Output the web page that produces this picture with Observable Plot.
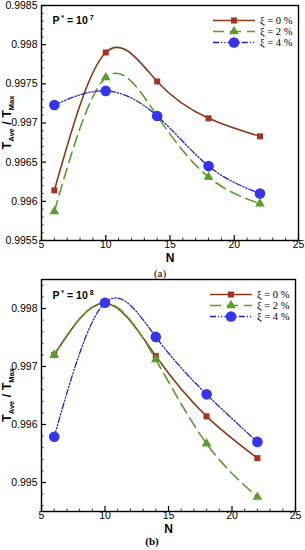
<!DOCTYPE html>
<html><head><meta charset="utf-8">
<script src="https://cdn.jsdelivr.net/npm/d3@7"></script>
<script src="https://cdn.jsdelivr.net/npm/@observablehq/plot@0.6"></script>
<style>
html,body{margin:0;padding:0;background:#fff;}
#wrap{position:relative;width:305px;height:550px;overflow:hidden;font-family:"Liberation Sans",Arial,sans-serif;}
.panel{position:absolute;left:0;}
.cap{position:absolute;font-family:"Liberation Serif",serif;font-size:11px;transform:translateX(-50%);}
.legend{position:absolute;font-family:"Liberation Serif",serif;font-size:10.5px;}
</style></head>
<body><div id="wrap"></div>
<script>
// ---- data ----
const N = [6, 10, 14, 18, 22];
const seriesNames = ["ξ = 0 %", "ξ = 2 %", "ξ = 4 %"];
// panel (a) P* = 10^7
const aXi0 = [0.99614, 0.99790, 0.99753, 0.99706, 0.99683];
const aXi2 = [0.99587, 0.99758, 0.99709, 0.99631, 0.99597];
const aXi4 = [0.99723, 0.99741, 0.99709, 0.99645, 0.99610];
// panel (b) P* = 10^8
const bXi0 = [0.99720, 0.99809, 0.99718, 0.99614, 0.99542];
const bXi2 = [0.99720, 0.99810, 0.99712, 0.99567, 0.99475];
const bXi4 = [0.99579, 0.99810, 0.99751, 0.99652, 0.99570];
// ticks
const xTicks = [5, 10, 15, 20, 25];
const xMinor = [6,7,8,9,11,12,13,14,16,17,18,19,21,22,23,24];
const aYTicks = [0.9955, 0.996, 0.9965, 0.997, 0.9975, 0.998, 0.9985];
const aYMinor = [0.9956,0.9957,0.9958,0.9959,0.9961,0.9962,0.9963,0.9964,0.9966,0.9967,0.9968,0.9969,0.9971,0.9972,0.9973,0.9974,0.9976,0.9977,0.9978,0.9979,0.9981,0.9982,0.9983,0.9984];
const bYTicks = [0.995, 0.996, 0.997, 0.998];
const bYMinor = [0.9946,0.9948,0.9952,0.9954,0.9956,0.9958,0.9962,0.9964,0.9966,0.9968,0.9972,0.9974,0.9976,0.9978,0.9982,0.9984];

const styles = [
  {stroke:"#8b3a1a", fill:"#a8321e", dash:null, width:1.6, symbol:"square", r:3.4},
  {stroke:"#5a9e2a", fill:"#5a9e2a", dash:"11,6", width:1.6, symbol:"triangle", r:3.6},
  {stroke:"#1f1fe6", fill:"#3434f4", dash:"6,2,1.2,2,1.2,2", width:1.3, symbol:"circle", r:5.3}
];

function panel(cfg){
  const series = cfg.values.map((vals,i)=>N.map((n,j)=>({N:n, T:vals[j], s:i})));
  const innerW = cfg.width - cfg.ml - cfg.mr;
  const innerH = cfg.height - cfg.mt - cfg.mb;
  const marks = [
    Plot.tickX(xTicks, {x:d=>d, insetTop: innerH-5, stroke:"#000", strokeWidth:1.2}),
    Plot.tickX(xMinor, {x:d=>d, insetTop: innerH-2.5, stroke:"#000", strokeWidth:0.8}),
    Plot.tickY(cfg.yTicks, {y:d=>d, insetRight: innerW-5, stroke:"#000", strokeWidth:1.2}),
    Plot.tickY(cfg.yMinor, {y:d=>d, insetRight: innerW-2.5, stroke:"#000", strokeWidth:0.8}),
    Plot.axisX({ticks:xTicks, tickSize:0, tickPadding:0, tickFormat:d=>String(d), label:null, fontSize:10.5}),
    Plot.axisY({ticks:cfg.yTicks, tickSize:0, tickPadding:4, tickFormat:d=>String(d), label:null, fontSize:10.5}),
    Plot.text(["N"], {frameAnchor:"bottom", dy:cfg.ndy, text:d=>d, fontWeight:"bold", fontSize:12})
  ];
  series.forEach((data,i)=>{
    const st = styles[i];
    marks.push(Plot.line(data, {x:"N", y:"T", curve:"natural", stroke:st.stroke, strokeWidth:st.width, strokeDasharray:st.dash}));
  });
  series.forEach((data,i)=>{
    const st = styles[i];
    marks.push(Plot.dot(data, {x:"N", y:"T", symbol:st.symbol, r:st.r, fill:st.fill, stroke:"none"}));
  });
  marks.push(Plot.frame({stroke:"#000", strokeWidth:1.4}));
  const svg = Plot.plot({
    width: cfg.width, height: cfg.height,
    marginLeft: cfg.ml, marginRight: cfg.mr, marginTop: cfg.mt, marginBottom: cfg.mb,
    x:{domain:[5,25]}, y:{domain:cfg.yDomain},
    style:{fontFamily:'"Liberation Sans",Arial,sans-serif', fontSize:"10.5px", background:"transparent", overflow:"visible"},
    marks
  });
  // y label with subscripts
  const s = d3.select(svg);
  const cy = cfg.mt + innerH/2;
  const lab = s.append("text")
    .attr("transform", `translate(${cfg.ylabX},${cy}) rotate(-90)`)
    .attr("text-anchor","middle")
    .attr("font-family",'"Liberation Sans",Arial,sans-serif')
    .attr("font-weight","bold").attr("font-size",12.5).attr("fill","#000");
  lab.append("tspan").text("T");
  lab.append("tspan").attr("font-size",7.5).attr("dy",3).text("Ave");
  lab.append("tspan").attr("dy",-3).text(" / T");
  lab.append("tspan").attr("font-size",7.5).attr("dy",3).text("Max");
  // P* annotation
  const p = s.append("text")
    .attr("x", cfg.px).attr("y", cfg.py)
    .attr("font-family",'"Liberation Sans",Arial,sans-serif')
    .attr("font-weight","bold").attr("font-size",10.5).attr("fill","#000");
  p.append("tspan").text("P");
  p.append("tspan").attr("font-size",7).attr("dy",-4).text(" *");
  p.append("tspan").attr("dy",4).text(" = 10");
  p.append("tspan").attr("font-size",7).attr("dy",-4).text(" " + cfg.exp);
  const div = document.createElement("div");
  div.className = "panel";
  div.style.top = cfg.top + "px";
  div.appendChild(svg);
  return div;
}

function legend(left, top, rowH){
  const d = document.createElement("div");
  d.className = "legend";
  d.style.left = left + "px"; d.style.top = top + "px";
  seriesNames.forEach((name,i)=>{
    const st = styles[i];
    const row = document.createElement("div");
    row.style.cssText = `display:flex;align-items:center;height:${rowH}px;`;
    const sv = d3.create("svg").attr("width",44).attr("height",rowH);
    sv.append("line").attr("x1",1).attr("x2",43).attr("y1",rowH/2).attr("y2",rowH/2)
      .attr("stroke",st.stroke).attr("stroke-width",st.width).attr("stroke-dasharray",st.dash);
    const sz = Math.PI*st.r*st.r;
    const sym = st.symbol==="square"?d3.symbolSquare:st.symbol==="triangle"?d3.symbolTriangle:d3.symbolCircle;
    sv.append("path").attr("d", d3.symbol(sym, sz)()).attr("transform",`translate(22,${rowH/2})`).attr("fill",st.fill);
    row.appendChild(sv.node());
    const t = document.createElement("span");
    t.style.marginLeft = "4px";
    t.textContent = name;
    row.appendChild(t);
    d.appendChild(row);
  });
  return d;
}

const wrap = document.getElementById("wrap");
wrap.appendChild(panel({values:[aXi0,aXi2,aXi4], yDomain:[0.9955,0.9985], yTicks:aYTicks, yMinor:aYMinor,
  width:305, height:262, ml:41, mr:7, mt:5, mb:22, top:0, ylabX:11, px:73, py:24, exp:"7", ndy:21}));
wrap.appendChild(panel({values:[bXi0,bXi2,bXi4], yDomain:[0.9945,0.9985], yTicks:bYTicks, yMinor:bYMinor,
  width:305, height:258, ml:41, mr:10, mt:4, mb:22, top:275, ylabX:11, px:73, py:24, exp:"8", ndy:21}));
wrap.appendChild(legend(212, 15, 11));
wrap.appendChild(legend(209, 289, 11));
const ca = document.createElement("div"); ca.className="cap"; ca.style.left="160px"; ca.style.top="267px"; ca.textContent="(a)"; wrap.appendChild(ca);
const cb = document.createElement("div"); cb.className="cap"; cb.style.left="152px"; cb.style.top="535px"; cb.style.fontWeight="bold"; cb.textContent="(b)"; wrap.appendChild(cb);
</script></body></html>
